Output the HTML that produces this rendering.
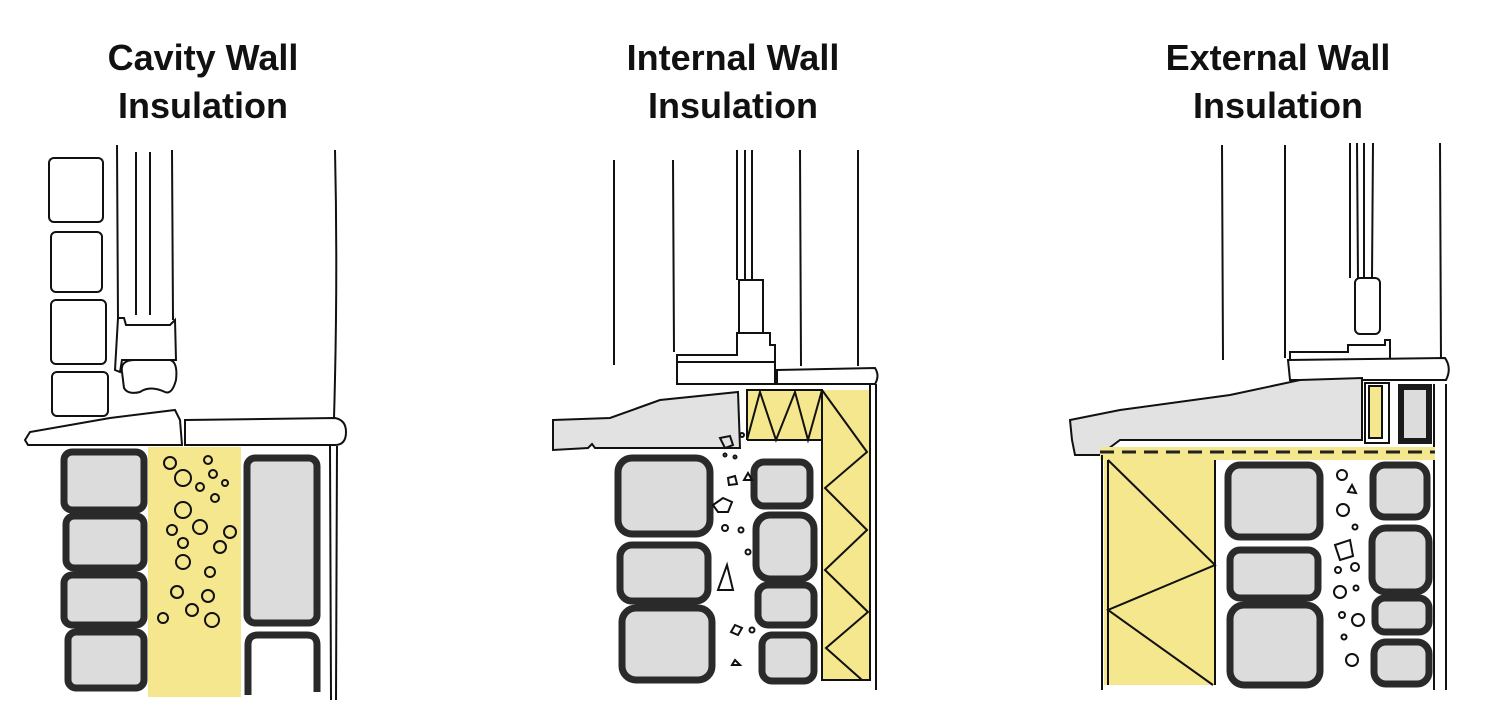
<!DOCTYPE html>
<html><head><meta charset="utf-8"><style>
html,body{margin:0;padding:0;background:#fff}
svg{display:block}
text{font-family:"Liberation Sans",sans-serif;font-weight:bold;font-size:36px;fill:#111;text-anchor:middle}
.s{fill:#dcdcdc;stroke:#2a2a2a;stroke-width:7}
.l{fill:none;stroke:#111;stroke-width:2}
.t{fill:#fff;stroke:#111;stroke-width:2}
.g{fill:#e2e2e2;stroke:#111;stroke-width:2}
.y{fill:#f5e78e}
.c{fill:none;stroke:#111;stroke-width:2}
</style></head><body>
<svg width="1500" height="726" viewBox="0 0 1500 726" xmlns="http://www.w3.org/2000/svg">
<!-- Titles -->
<text x="203" y="70">Cavity Wall</text>
<text x="203" y="118">Insulation</text>
<text x="733" y="70">Internal Wall</text>
<text x="733" y="118">Insulation</text>
<text x="1278" y="70">External Wall</text>
<text x="1278" y="118">Insulation</text>

<!-- ===== Panel 1 ===== -->
<rect class="t" x="49" y="158" width="54" height="64" rx="5"/>
<rect class="t" x="51" y="232" width="51" height="60" rx="5"/>
<rect class="t" x="51" y="300" width="55" height="64" rx="5"/>
<rect class="t" x="52" y="372" width="56" height="44" rx="5"/>
<path class="l" d="M117 145 L118 320 M136 152 L136 315 M150 152 L150 315 M172 150 L173 320"/>
<path class="t" d="M115 370 L118 318 L124 318 L126 325 L170 325 L175 320 L176 360 L122 360 L120 372 Z"/>
<path class="t" d="M122 372 Q120 360 135 360 L170 360 Q178 362 176 380 Q172 395 165 392 Q150 385 140 392 Q128 395 124 388 Z"/>
<path class="t" d="M25 440 L30 432 L110 418 L175 410 L180 420 L182 445 L28 445 Z"/>
<path class="t" d="M185 420 L335 418 Q346 420 346 432 Q346 445 335 445 L185 445 Z"/>
<path class="l" d="M335 150 Q338 280 334 418"/>
<rect class="y" x="148" y="447" width="93" height="250"/>
<g class="c">
<circle cx="170" cy="463" r="6"/><circle cx="208" cy="460" r="4"/><circle cx="183" cy="478" r="8"/><circle cx="213" cy="474" r="4"/><circle cx="200" cy="487" r="4"/><circle cx="225" cy="483" r="3"/><circle cx="215" cy="498" r="4"/><circle cx="183" cy="510" r="8"/><circle cx="172" cy="530" r="5"/><circle cx="200" cy="527" r="7"/><circle cx="230" cy="532" r="6"/><circle cx="183" cy="543" r="5"/><circle cx="220" cy="547" r="6"/><circle cx="183" cy="562" r="7"/><circle cx="210" cy="572" r="5"/><circle cx="177" cy="592" r="6"/><circle cx="208" cy="596" r="6"/><circle cx="192" cy="610" r="6"/><circle cx="163" cy="618" r="5"/><circle cx="212" cy="620" r="7"/>
</g>
<rect class="s" x="64" y="452" width="80" height="58" rx="8"/>
<rect class="s" x="66" y="516" width="78" height="52" rx="8"/>
<rect class="s" x="64" y="575" width="80" height="50" rx="8"/>
<rect class="s" x="68" y="632" width="76" height="56" rx="8"/>
<rect class="s" x="247" y="458" width="70" height="165" rx="8"/>
<path d="M248 695 L248 645 Q248 635 258 635 L307 635 Q317 635 317 645 L317 692" fill="none" stroke="#2a2a2a" stroke-width="7"/>
<path class="l" d="M330 446 L331 700 M337 446 L336 700"/>

<!-- ===== Panel 2 ===== -->
<path class="l" d="M614 160 L614 365 M673 160 L674 352 M737 150 L737 280 M745 150 L745 280 M752 150 L752 280 M800 150 L801 366 M858 150 L858 366"/>
<rect class="t" x="739" y="280" width="24" height="53"/>
<path class="t" d="M737 345 L737 333 L770 333 L770 345 L775 345 L775 362 L677 362 L677 355 L737 355 Z"/>
<rect class="t" x="677" y="362" width="98" height="22"/>
<path class="t" d="M777 370 L875 368 Q880 376 875 384 L777 384 Z"/>
<path class="g" d="M553 420 L610 418 L660 400 L738 392 L740 448 L595 448 L592 444 L588 448 L553 450 Z"/>
<rect class="y" x="747" y="390" width="76" height="50"/>
<rect class="y" x="822" y="390" width="48" height="290"/>
<path class="c" d="M747 440 L747 390 L822 390 L822 440 L747 440 M747 440 L760 392 L776 440 L795 392 L808 440 L822 390"/>
<path class="c" d="M822 390 L822 680 L870 680 L870 385 M822 390 L867 452 L825 488 L867 530 L825 570 L868 612 L826 648 L862 680"/>
<path class="l" d="M876 384 L876 690"/>
<rect class="s" x="618" y="458" width="92" height="76" rx="14"/>
<rect class="s" x="620" y="545" width="88" height="56" rx="12"/>
<rect class="s" x="622" y="608" width="90" height="72" rx="14"/>
<rect class="s" x="754" y="462" width="56" height="44" rx="10"/>
<rect class="s" x="756" y="515" width="58" height="64" rx="14"/>
<rect class="s" x="758" y="585" width="56" height="40" rx="10"/>
<rect class="s" x="762" y="635" width="52" height="46" rx="10"/>
<g class="c" stroke-width="1.5">
<path d="M720 438 L730 436 L733 445 L725 448 Z"/><path d="M728 478 L735 476 L737 484 L729 485 Z"/><path d="M748 473 L752 480 L744 480 Z"/><path d="M713 505 L723 498 L732 502 L728 512 L718 512 Z"/><path d="M727 565 L733 590 L718 590 Z"/><path d="M735 625 L742 628 L738 635 L731 632 Z"/><path d="M735 660 L740 665 L732 665 Z"/>
<circle cx="742" cy="435" r="2"/><circle cx="725" cy="455" r="1.5"/><circle cx="735" cy="457" r="1.5"/><circle cx="725" cy="528" r="3"/><circle cx="741" cy="530" r="2.5"/><circle cx="748" cy="552" r="2.5"/><circle cx="752" cy="630" r="2.5"/>
</g>

<!-- ===== Panel 3 ===== -->
<path class="l" d="M1222 145 L1223 360 M1285 145 L1285 358 M1350 143 L1350 278 M1357 143 L1358 278 M1364 143 L1364 278 M1373 143 L1372 278 M1440 143 L1441 365"/>
<rect class="t" x="1355" y="278" width="25" height="56" rx="5"/>
<path class="t" d="M1348 352 L1348 345 L1385 345 L1385 340 L1390 340 L1390 360 L1290 360 L1290 352 Z"/>
<path class="t" d="M1288 360 L1445 358 Q1452 368 1446 380 L1290 380 Z"/>
<path class="g" d="M1070 420 L1120 410 L1230 395 L1300 380 L1362 378 L1362 440 L1120 440 L1100 455 L1075 455 L1072 440 Z"/>
<rect x="1365" y="383" width="24" height="60" fill="#fff" stroke="#111" stroke-width="2"/>
<rect class="y" x="1369" y="386" width="13" height="52" stroke="#111" stroke-width="2"/>
<rect x="1401" y="387" width="28" height="54" fill="#dcdcdc" stroke="#1a1a1a" stroke-width="6"/>
<path class="l" d="M1434 384 L1434 690 M1446 384 L1446 690"/>
<rect class="y" x="1100" y="447" width="335" height="13"/>
<path d="M1100 452 L1435 452" stroke="#222" stroke-width="3" stroke-dasharray="14 8"/>
<rect class="y" x="1104" y="460" width="111" height="225"/>
<path class="c" d="M1102 455 L1102 690 M1108 460 L1108 685 M1215 460 L1215 685 M1108 460 L1215 565 L1108 610 L1213 685"/>
<rect class="s" x="1228" y="465" width="92" height="72" rx="12"/>
<rect class="s" x="1230" y="550" width="88" height="48" rx="10"/>
<rect class="s" x="1230" y="605" width="90" height="80" rx="14"/>
<rect class="s" x="1373" y="465" width="54" height="52" rx="12"/>
<rect class="s" x="1372" y="528" width="57" height="64" rx="14"/>
<rect class="s" x="1375" y="598" width="54" height="34" rx="10"/>
<rect class="s" x="1374" y="642" width="55" height="42" rx="12"/>
<g class="c" stroke-width="1.5">
<circle cx="1342" cy="475" r="5"/><path d="M1352 485 L1356 493 L1348 492 Z"/><circle cx="1343" cy="510" r="6"/><circle cx="1355" cy="527" r="2.5"/><path d="M1335 545 L1350 540 L1353 556 L1340 560 Z"/><circle cx="1338" cy="570" r="3"/><circle cx="1355" cy="567" r="4"/><circle cx="1340" cy="592" r="6"/><circle cx="1356" cy="588" r="2.5"/><circle cx="1342" cy="615" r="3"/><circle cx="1358" cy="620" r="6"/><circle cx="1344" cy="637" r="2.5"/><circle cx="1352" cy="660" r="6"/>
</g>
</svg>
</body></html>
